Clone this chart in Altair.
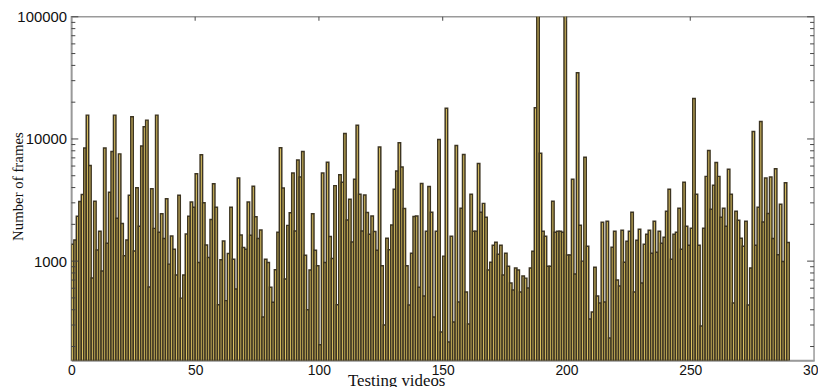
import altair as alt
import pandas as pd

# Number of frames per testing video (log scale)
frames = [
    1374, 1490, 2334, 3076, 3510, 8450, 15670, 6070, 728, 3090,
    1235, 1754, 830, 8450, 1400, 3656, 7890, 15670, 2240, 7550,
    2036, 1105, 1490, 3460, 15170, 1213, 3990, 1926, 8770, 12590,
    14260, 615, 3920, 1854, 15670, 1722, 2443, 1530, 3235, 945,
    1607, 1252, 770, 3460, 498, 770, 1668, 2334, 3054, 2762,
    5190, 975, 7415, 3000, 1358, 1072, 2193, 4300, 2762, 439,
    1025, 1462, 475, 1155, 2762, 1038, 592, 4790, 1636, 1292,
    1252, 3054, 1630, 4110, 2306, 1530, 1798, 349, 1038, 975,
    611, 461, 849, 1720, 8490, 3970, 714, 1962, 2490, 5260,
    1763, 6740, 4885, 7890, 1119, 400, 845, 2443, 1229, 916,
    207, 5260, 975, 6450, 1588, 1052, 4150, 439, 5093, 4415,
    11100, 2170, 3210, 1437, 4670, 12960, 3520, 1767, 3470, 2497,
    1662, 2343, 1748, 1229, 8580, 915, 300, 1541, 1237, 1979,
    3870, 5460, 9300, 5890, 2692, 915, 437, 1162, 2316, 2343,
    610, 4310, 518, 1758, 4090, 2510, 349, 1758, 9900, 263,
    1099, 17800, 218, 1600, 318, 8850, 462, 2710, 7460, 558,
    306, 3520, 1758, 1758, 6300, 2510, 2970, 2290, 845, 981,
    1350, 1430, 1140, 1350, 769, 1162, 910, 661, 580, 877,
    845, 558, 755, 726, 602, 877, 1207, 18000, 200000, 7630,
    1758, 1600, 910, 910, 3090, 1725, 1758, 1758, 1725, 200000,
    1120, 1120, 4670, 783, 34900, 1966, 1000, 7070, 1326, 336,
    383, 893, 518, 454, 2080, 462, 2121, 235, 1300, 1758,
    700, 625, 1790, 981, 1456, 1758, 2510, 558, 1484, 1825,
    661, 1376, 1662, 1790, 1162, 2121, 1184, 1758, 1403, 1570,
    2560, 3870, 1038, 1662, 1725, 2710, 1253, 4420, 1931, 1350,
    1860, 21400, 3520, 1350, 295, 1860, 4940, 8060, 2660, 4170,
    6430, 4940, 2290, 2710, 1931, 5640, 3520, 454, 2560, 2160,
    1541, 1326, 2121, 437, 877, 11500, 1350, 2760, 13900, 2090,
    4790, 2450, 4880, 1530, 5710, 1126, 2920, 995, 4380, 1420,
]

video_index = list(range(len(frames)))
y_domain = [154, 100000]
x_domain = [0, 300]
y_major = [1000, 10000, 100000]
y_minor = [200, 300, 400, 500, 600, 700, 800, 900,
           2000, 3000, 4000, 5000, 6000, 7000, 8000, 9000,
           20000, 30000, 40000, 50000, 60000, 70000, 80000, 90000]
x_labels = [0, 50, 100, 150, 200, 250, 300]
x_top_ticks = [50, 100, 150, 200, 250]

W, H = 750, 347
MAJOR_LEN, MINOR_LEN, TOP_LEN = 7, 4, 4
AXIS_GRAY = "#9a9a9a"
TICK_COLOR = "#444444"

df = pd.DataFrame({
    "video": video_index,
    "video_end": [v + 1 for v in video_index],
    "frames": frames,
})

x_scale = alt.Scale(domain=x_domain, nice=False, zero=False)
y_scale = alt.Scale(type="log", domain=y_domain, nice=False)

# Bars only (no axes)
bars = alt.Chart(df).mark_rect(
    fill="#dcc262", stroke="#3d3522", strokeWidth=1.5, clip=True
).encode(
    x=alt.X("video:Q", scale=x_scale, axis=None),
    x2="video_end:Q",
    y=alt.Y("frames:Q", scale=y_scale, axis=None),
    y2=alt.value(H),
)

major_df = pd.DataFrame({"v": y_major})
minor_df = pd.DataFrame({"v": y_minor})
top_df = pd.DataFrame({"t": x_top_ticks})

axis_x = alt.Axis(
    values=x_labels, ticks=False, grid=False, format="d",
    domainColor=AXIS_GRAY, domainWidth=1.5,
    labelFont="Liberation Sans", labelFontSize=14, labelColor="#111111",
    labelPadding=3, labelFlush=False,
    title="Testing videos", titleFont="Liberation Serif", titleFontSize=17,
    titleFontWeight="normal", titleColor="#111111",
    titleX=328, titleY=25, titleAlign="center", titleBaseline="alphabetic",
)
axis_y = alt.Axis(
    values=y_major, ticks=False, grid=False, format="d",
    domainColor=AXIS_GRAY, domainWidth=1.5,
    labelFont="Liberation Sans", labelFontSize=15, labelColor="#111111",
    labelPadding=5, labelFlush=False,
    title="Number of frames", titleFont="Liberation Serif", titleFontSize=15,
    titleFontWeight="normal", titleColor="#111111", titleAngle=270,
    titleX=-49, titleY=171, titleAlign="center", titleBaseline="alphabetic",
)

left_major = alt.Chart(major_df).mark_rule(color=TICK_COLOR, strokeWidth=1).encode(
    y=alt.Y("v:Q", scale=y_scale, axis=axis_y),
    x=alt.value(0), x2=alt.value(MAJOR_LEN),
)

def yticks(data, x0, x1):
    return alt.Chart(data).mark_rule(color=TICK_COLOR, strokeWidth=1).encode(
        y=alt.Y("v:Q", scale=y_scale, axis=None),
        x=alt.value(x0), x2=alt.value(x1),
    )

left_minor = yticks(minor_df, 0, MINOR_LEN)
right_major = yticks(major_df, W - MAJOR_LEN, W)
right_minor = yticks(minor_df, W - MINOR_LEN, W)

top_ticks = alt.Chart(top_df).mark_rule(color=TICK_COLOR, strokeWidth=1).encode(
    x=alt.X("t:Q", scale=x_scale, axis=axis_x),
    y=alt.value(0), y2=alt.value(TOP_LEN),
)

chart = alt.layer(
    bars, left_major, left_minor, right_major, right_minor, top_ticks
).resolve_axis(x="independent", y="independent").properties(
    width=W, height=H,
    padding={"left": 64, "top": 7, "right": 4, "bottom": 25},
    autosize=alt.AutoSizeParams(type="none"),
    background="white",
).configure_view(stroke=AXIS_GRAY, strokeWidth=1.5)

chart.save("out.html", embed_options={"renderer": "svg", "actions": False})
